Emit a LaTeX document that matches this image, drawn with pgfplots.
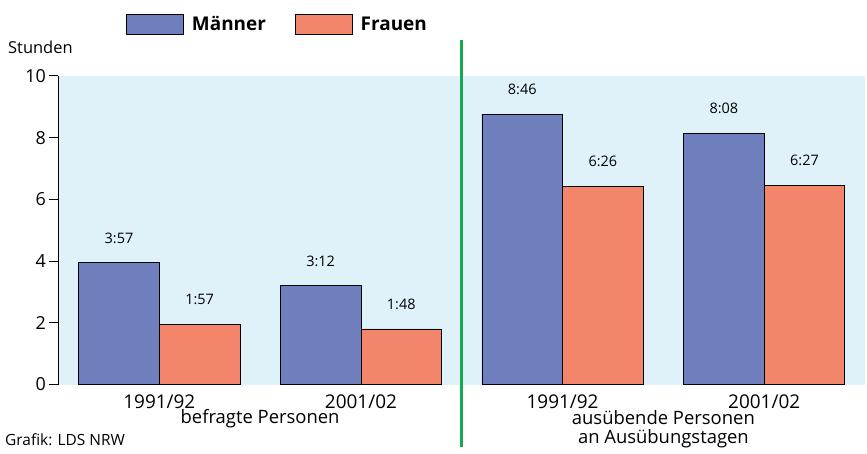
\documentclass[border=0pt]{standalone}
\usepackage{fontspec}
\setmainfont{Open Sans}
\usepackage{pgfplots}
\pgfplotsset{compat=1.18}
\definecolor{mblue}{RGB}{111,127,189}
\definecolor{forange}{RGB}{243,134,106}
\definecolor{bgblue}{RGB}{223,242,250}
\definecolor{lgreen}{RGB}{22,170,80}
\pgfplotsset{boxlegend/.style={legend image code/.code={\draw[##1,/tikz/.cd] (0bp,-10bp) rectangle (57bp,10bp);}}}
\begin{document}
\begin{tikzpicture}
\begin{axis}[
  at={(0,0)}, anchor=south west,
  scale only axis, width=806.5bp, height=308.5bp,
  xmin=-0.5, xmax=3.5, ymin=0, ymax=10,
  ybar, bar width=0.4,
  axis background/.style={fill=bgblue},
  axis y line*=left, axis x line*=bottom,
  x axis line style={draw=none},
  y axis line style={line width=1.2bp},
  xtick={0,1,2,3}, xticklabels={1991/92,2001/02,1991/92,2001/02},
  xtick style={draw=none},
  xticklabel style={font=\fontsize{19}{22}\selectfont, yshift=2bp},
  ytick={0,2,4,6,8,10},
  ytick style={line width=1bp, black},
  tick align=outside, major tick length=9bp,
  yticklabel style={font=\fontsize{18}{21}\selectfont},
  /pgf/number format/assume math mode=true,
  clip=false,
  point meta=explicit symbolic,
  nodes near coords,
  every node near coord/.append style={font=\fontsize{14.5}{17}\selectfont, anchor=south, inner sep=0pt, yshift=19bp, black},
  legend columns=2,
  legend style={at={(0.0837,1.201)}, anchor=north west, draw=none, fill=none, inner sep=0pt, font=\bfseries\fontsize{19}{22}\selectfont,
    /tikz/every odd column/.append style={column sep=6bp},
    /tikz/every even column/.append style={column sep=27bp}},
  legend cell align=left,
]
\addplot[bar shift=-0.2, fill=mblue, draw=black, line width=0.8bp, boxlegend]
  coordinates {(0,3.95) [3:57] (1,3.2) [3:12] (2,8.767) [8:46] (3,8.133) [8:08]};
\addlegendentry{Männer}
\addplot[bar shift=0.2, fill=forange, draw=black, line width=0.8bp, boxlegend]
  coordinates {(0,1.95) [1:57] (1,1.8) [1:48] (2,6.433) [6:26] (3,6.45) [6:27]};
\addlegendentry{Frauen}
\draw[lgreen, line width=3bp] (axis cs:1.5,11.17) -- (axis cs:1.5,-2.03);
\node[font=\fontsize{18.5}{21}\selectfont, yshift=-34.5bp] at (axis cs:0.5,0) {befragte Personen};
\node[font=\fontsize{18.5}{19.5}\selectfont, align=center, yshift=-44.5bp] at (axis cs:2.5,0) {ausübende Personen\\an Ausübungstagen};
\end{axis}
\node[anchor=west, font=\fontsize{16.5}{19}\selectfont, inner sep=0pt] at (-50.5bp,337.5bp) {Stunden};
\node[anchor=west, font=\fontsize{15.5}{18}\selectfont, inner sep=0pt] at (-53.5bp,-55.5bp) {Grafik: LDS NRW};
\pgfresetboundingbox
\useasboundingbox (-58.5bp,-69.5bp) rectangle (808.5bp,384.5bp);
\end{tikzpicture}
\end{document}
